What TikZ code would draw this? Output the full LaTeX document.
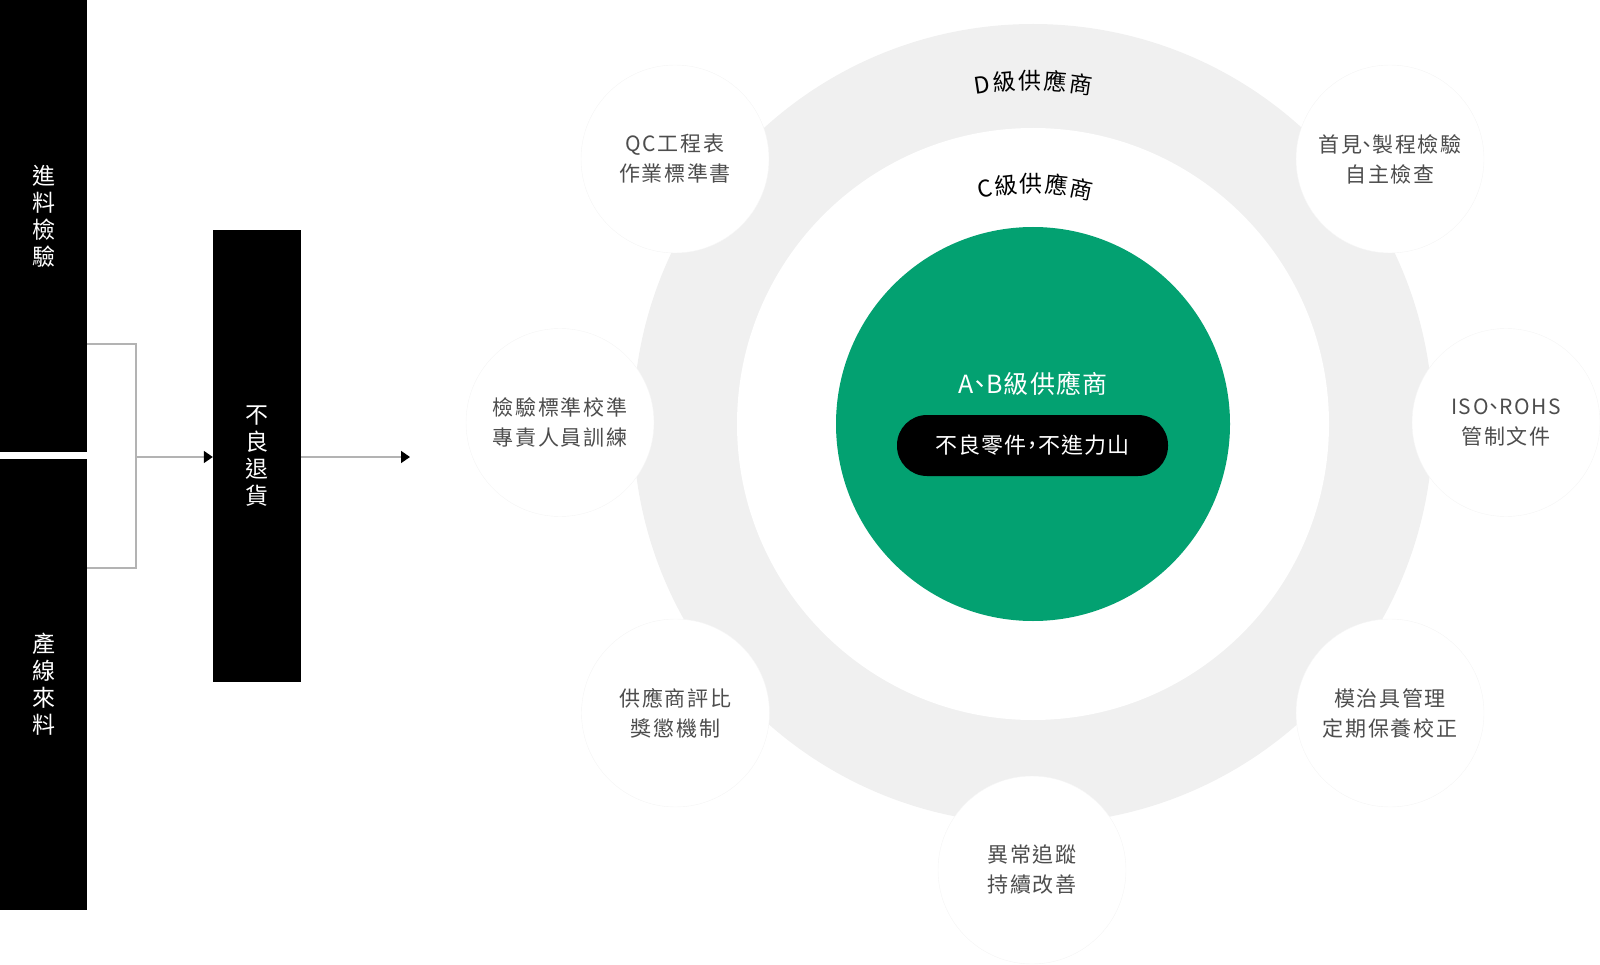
\documentclass[tikz,border=0pt]{standalone}
\usepackage{fontspec}
\setmainfont{Noto Sans CJK TC}
\usepackage{xcolor}
\usepackage{tikz}
\usetikzlibrary{positioning,arrows.meta}

\definecolor{ringgray}{HTML}{F0F0F0}
\definecolor{coregreen}{HTML}{03A171}
\definecolor{textgray}{HTML}{4D4D4D}
\definecolor{linegray}{HTML}{B3B3B3}

% half width punctuation
\newcommand{\hw}[1]{{\addfontfeatures{RawFeature=+halt}#1}}

\begin{document}
\begin{tikzpicture}[x=1pt, y=-1pt,
        bar/.style={fill=black, text=white, minimum width=87pt, inner sep=0pt, align=center, font=\fontsize{23}{27}\selectfont},
        item/.style={circle, fill=white, draw=black!4, minimum size=188pt, inner sep=0pt, align=center, text=textgray, font=\fontsize{21}{30}\selectfont\addfontfeatures{LetterSpace=8}},
        link/.style={draw=linegray, line width=1.5pt},
        tip/.style={-{Triangle[length=9pt, width=12pt, color=black]}},
        letter/.style={inner sep=0pt, font=\fontsize{23}{23}\selectfont}]
            \useasboundingbox (0,0) rectangle (1600,965);

            % left side
            \node (incoming) [bar, minimum height=471pt] at (43.5,216.5) {進\\料\\檢\\驗};
            \node (lineside) [bar, minimum height=451pt] at (43.5,684.5) {產\\線\\來\\料};
            \node (reject) [bar, minimum width=88pt, minimum height=451pt] at (257,456) {不\\良\\退\\貨};
            \coordinate (join) at (136,457);
            \coordinate (out) at (410,457);

            \draw[link] (incoming.east |- 0,344) -- (join |- 0,344) -- (join |- 0,568) -- (lineside.east |- 0,568);
            \draw[link, tip] (join) -- (reject.west |- join);
            \draw[link, tip] (reject.east |- join) -- (out);

            % rings
            \coordinate (hub) at (1033,424);
            \node (dring) [circle, fill=ringgray, minimum size=800pt, inner sep=0pt] at (hub) {};
            \node (cring) [circle, fill=white, minimum size=592pt, inner sep=0pt] at (hub) {};
            \node (core) [circle, fill=coregreen, minimum size=394pt, inner sep=0pt] at (hub) {};

            \foreach \ch/\a in {D/98.5, 級/94.8, 供/90.5, 應/86.2, 商/81.9}
                \node [letter, rotate=\a-90] at ([shift={(\a:343pt)}]hub) {\ch};
            \foreach \ch/\a in {C/101.5, 級/96.6, 供/90.5, 應/84.4, 商/78.3}
                \node [letter, rotate=\a-90] at ([shift={(\a:240pt)}]hub) {\ch};

            \node (ab) [text=white, font=\fontsize{25}{25}\selectfont\addfontfeatures{LetterSpace=5}] at (1033,384) {A\hw{、}B級供應商};
            \node (rule) [fill=black, text=white, rounded corners=30pt, minimum width=271pt, minimum height=61pt, font=\fontsize{22}{22}\selectfont\addfontfeatures{LetterSpace=6}] at (1032.5,445.5) {不良零件\hw{，}不進力山};

            % measures around the rings
            \node (qc) [item] at (675,159) {QC工程表\\作業標準書};
            \node (first) [item] at (1390,159) {首見\hw{、}製程檢驗\\自主檢查};
            \node (calib) [item] at (560,422.5) {檢驗標準校準\\專責人員訓練};
            \node (iso) [item] at (1506,422.5) {ISO\hw{、}ROHS\\管制文件};
            \node (rating) [item] at (675.5,713) {供應商評比\\獎懲機制};
            \node (mold) [item] at (1390,713) {模治具管理\\定期保養校正};
            \node (track) [item] at (1032,870) {異常追蹤\\持續改善};
        \end{tikzpicture}
\end{document}
